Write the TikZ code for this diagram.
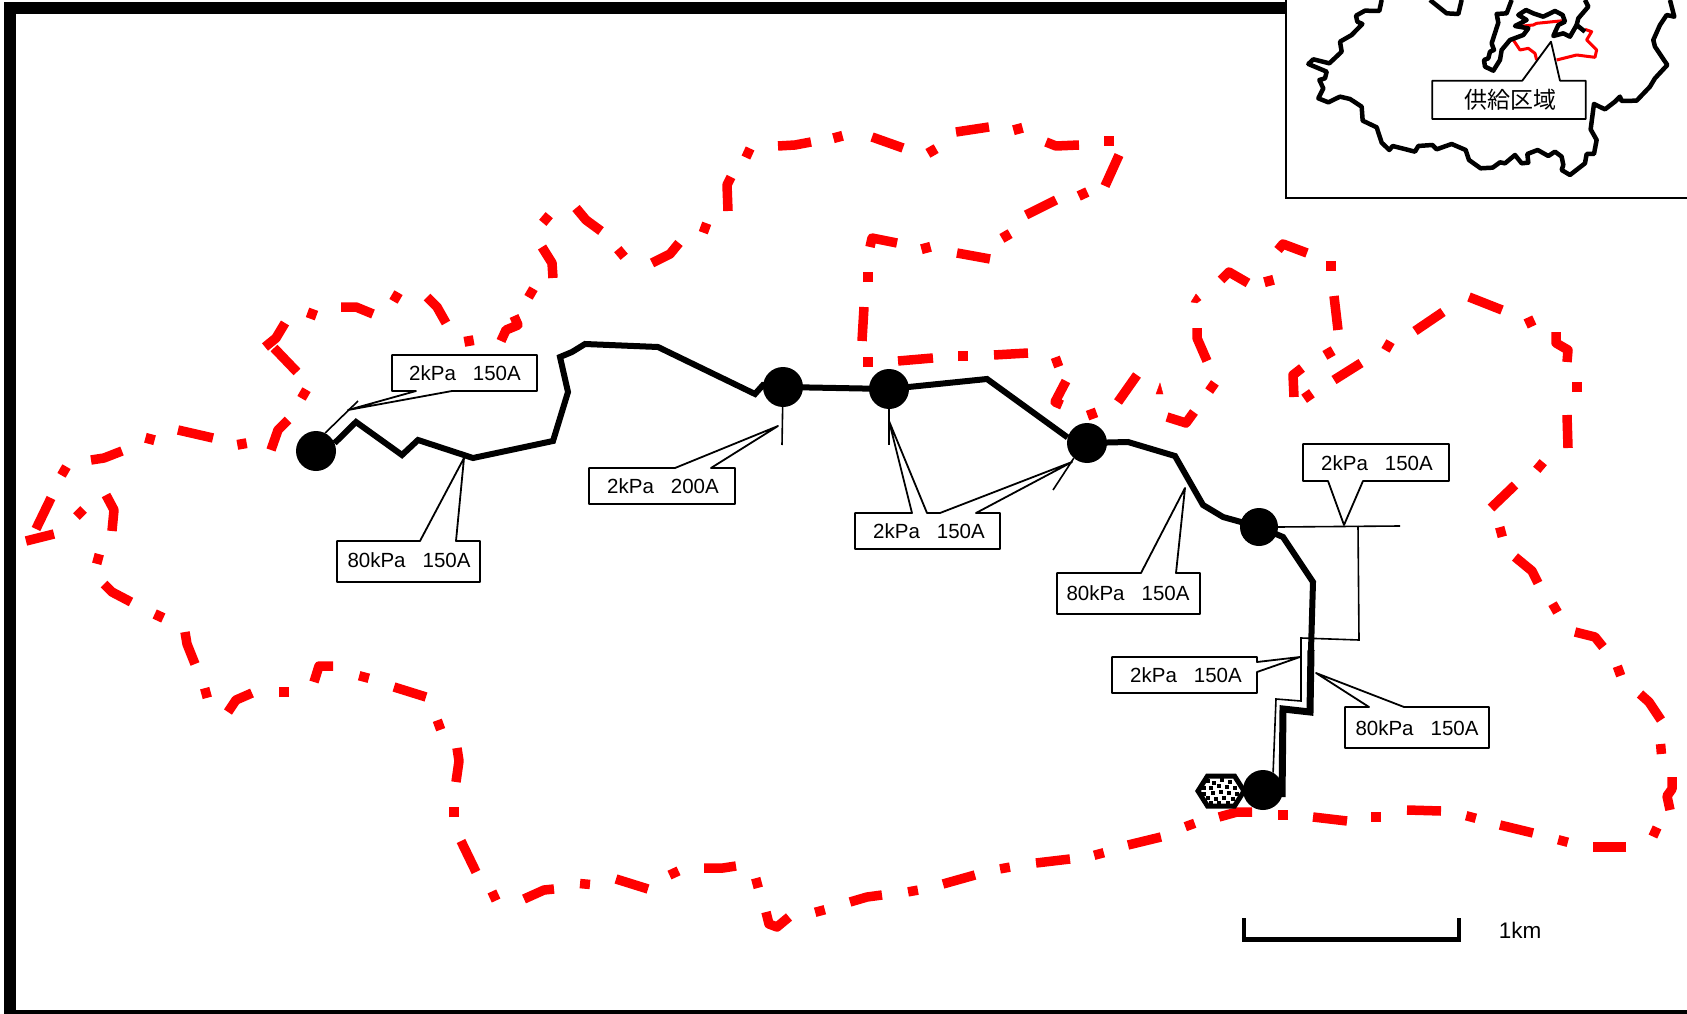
\documentclass[tikz,border=0pt]{standalone}
\usepackage{fontspec}
\setmainfont{Liberation Sans}
\newfontfamily\cjkfont{Noto Sans CJK JP}
\newcommand{\rdash}[1]{\draw[reddash] plot coordinates {#1};}
\newcommand{\rdot}[3]{\draw[reddash] (#1,#2) ++(#3:5) -- ++(#3+180:10);}
\newcommand{\pipelabel}[2]{#1\hspace{17pt}#2}
\tikzset{
  reddash/.style={draw=red,line width=9.5pt,line join=round},
  mainpipe/.style={draw=black,line width=6pt,line join=miter},
  heavypipe/.style={draw=black,line width=7pt,line join=miter},
  thinline/.style={draw=black,line width=1.6pt,line join=miter},
  callout/.style={draw=black,fill=white,line width=1.8pt,line join=round},
  station/.style={circle,fill=black,draw=none,inner sep=0pt,minimum size=40pt},
  calltext/.style={inner sep=0pt,font=\fontsize{20.5}{24}\selectfont,text=black},
  mapline/.style={draw=black,line width=4.5pt,line join=round},
  mapred/.style={draw=red,line width=3pt,line join=round}
}
\begin{document}
\begin{tikzpicture}[x=1pt,y=-1pt]
\useasboundingbox (0,0) rectangle (1687,1014);
\fill[white] (0,0) rectangle (1687,1014);
% frame
\draw[black,line width=12pt] (1300,8.5) -- (10,8.5) -- (10,1016) -- (1687,1016);
% red boundary
\rdash{(26,541) (54,534)}
\rdash{(36,529) (51,498)}
\rdot{64}{471}{-60}
\rdash{(91,460) (104,458) (122,451)}
\rdot{150}{439}{-75}
\rdash{(178,430) (213,438)}
\rdot{242}{444}{80}
\rdash{(271,450) (278,430) (288,420)}
\rdot{304}{394}{-60}
\rdash{(297,372) (274,348)}
\rdash{(265,347) (276,338) (285,323)}
\rdot{312}{314}{-70}
\rdash{(341,307) (356,307) (373,314)}
\rdot{396}{297}{-60}
\rdash{(427,297) (437,307) (446,323)}
\rdot{469}{341}{80}
\rdash{(501,341) (506,330) (518,325) (514,316)}
\rdot{531}{293}{-60}
\rdash{(553,278) (552,263) (542,247)}
\rdot{546}{219}{-50}
\rdash{(576,208) (586,220) (601,231)}
\rdot{621}{253}{50}
\rdash{(652,263) (670,254) (679,243)}
\rdot{705}{228}{-70}
\rdash{(728,211) (727,185) (731,177)}
\rdot{748}{153}{-65}
\rdash{(778,146) (795,145) (811,142)}
\rdot{838}{137}{75}
\rdash{(872,137) (903,148)}
\rdot{932}{151}{60}
\rdash{(956,132) (989,127)}
\rdot{1018}{129}{75}
\rdash{(1046,142) (1056,146) (1079,145)}
\rdot{1109}{141}{90}
\rdash{(1119,155) (1105,186)}
\rdot{1083}{194}{65}
\rdash{(1056,200) (1026,215)}
\rdot{1006}{236}{60}
\rdash{(990,259) (957,253)}
\rdot{926}{248}{75}
\rdash{(897,243) (872,238) (870,247)}
\rdot{868}{277}{90}
\rdash{(864,307) (862,341)}
\rdot{868}{362}{90}
\rdash{(898,361) (933,358)}
\rdot{963}{356}{90}
\rdash{(994,355) (1028,353)}
\rdot{1057}{362}{70}
\rdash{(1066,381) (1055,402) (1062,405)}
\rdot{1092}{414}{70}
\rdash{(1118,402) (1137,375)}
\draw[red,fill=red] (1156,394) -- (1160,383) -- (1163,394) -- cycle;
\rdash{(1167,417) (1186,423) (1194,412)}
\rdot{1212}{387}{-55}
\rdash{(1207,361) (1197,338) (1197,328)}
\draw[red,fill=red] (1191,302) -- (1196,294) -- (1201,300) -- (1197,303) -- cycle;
\rdash{(1221,280) (1229,272) (1248,283)}
\rdot{1269}{281}{75}
\rdash{(1278,250) (1283,244) (1307,253)}
\rdot{1331}{266}{90}
\rdash{(1334,296) (1338,330)}
\rdot{1329}{353}{60}
\rdash{(1294,397) (1293,375) (1302,368)}
\rdot{1308}{396}{55}
\rdash{(1334,380) (1361,363)}
\rdot{1388}{346}{-60}
\rdash{(1415,331) (1443,312)}
\rdash{(1469,297) (1502,310)}
\rdot{1530}{322}{65}
\rdash{(1556,332) (1556,343) (1568,350) (1567,362)}
\rdot{1577}{387}{90}
\rdash{(1567,415) (1568,448)}
\rdot{1540}{466}{-50}
\rdash{(1515,485) (1491,508)}
\rdot{1501}{532}{75}
\rdash{(1515,557) (1532,571) (1538,583)}
\rdot{1555}{608}{60}
\rdash{(1575,632) (1595,637) (1603,647)}
\rdot{1619}{671}{70}
\rdash{(1640,694) (1649,702) (1661,720)}
\rdot{1661}{749}{85}
\rdash{(1672,777) (1672,789) (1667,796) (1670,810)}
\rdot{1655}{832}{-65}
\rdash{(1626,847) (1607,847) (1593,847)}
\rdot{1563}{841}{15}
\rdash{(1533,833) (1500,825)}
\rdot{1471}{817}{15}
\rdash{(1441,811) (1407,810)}
\rdot{1376}{817}{0}
\rdash{(1347,821) (1313,817)}
\rdot{1283}{815}{0}
\rdash{(1252,812) (1237,812) (1219,817)}
\rdot{1190}{825}{-20}
\rdash{(1161,837) (1128,845)}
\rdot{1099}{854}{-15}
\rdash{(1070,859) (1036,863)}
\rdot{1005}{868}{-10}
\rdash{(975,875) (943,884)}
\rdot{913}{891}{-10}
\rdash{(882,895) (867,897) (850,902)}
\rdot{820}{911}{-15}
\rdash{(789,917) (777,927) (769,924) (766,912)}
\rdot{757}{883}{75}
\rdash{(736,866) (723,868) (704,868)}
\rdot{674}{873}{-25}
\rdash{(648,889) (616,879)}
\rdot{585}{884}{5}
\rdash{(554,889) (544,890) (524,899)}
\rdot{494}{896}{65}
\rdash{(476,872) (461,841)}
\rdot{454}{812}{90}
\rdash{(456,782) (459,761) (457,748)}
\rdot{439}{725}{70}
\rdash{(426,697) (394,687)}
\rdot{364}{677}{15}
\rdash{(333,666) (319,666) (314,682)}
\rdot{284}{692}{0}
\rdash{(252,693) (236,700) (228,712)}
\rdot{206}{693}{75}
\rdash{(195,664) (187,644) (185,632)}
\rdot{159}{616}{-65}
\rdash{(131,602) (112,592) (104,584)}
\rdot{98}{559}{-75}
\rdash{(106,495) (114,510) (112,531)}
\rdot{80}{513}{-45}
% stations
\node[station] (s1) at (316,451) {};
\node[station] (s2) at (783,387) {};
\node[station] (s3) at (889,389) {};
\node[station] (s4) at (1087,443) {};
\node[station,minimum size=38pt] (s5) at (1259,527) {};
\node[station] (s6) at (1263,790) {};
% thin branches
\coordinate (e1) at (358,401);
\draw[thinline] (s1.63) -- (e1);
\coordinate (e2) at (782,445);
\draw[thinline] (s2.center) -- (e2);
\coordinate (e3) at (889,445);
\draw[thinline] (s3.center) -- (e3);
\coordinate (e4) at (1053,490);
\draw[thinline] (s4.229) -- (e4);
\coordinate (e5) at (1400,526);
\draw[thinline] (s5.east) -- (e5);
\draw[thinline] (1358,526) -- (1359,640) -- (1301,638) -- (1301,701) -- (1276,699) -- (s6.60);
% main pipe
\draw[mainpipe] (s1.23) -- (356,422) -- (402,455) -- (418,440) -- (473,458) -- (553,441) -- (568,392) -- (560,357) -- (572,352) -- (585,344) -- (658,347) -- (755,394) -- (763,385) -- (s2.center);
\draw[mainpipe] (s2.center) -- (s3.center);
\draw[mainpipe] (s3.center) -- (987,379) -- (s4.164);
\draw[mainpipe] (s4.center) -- (1128,442) -- (1175,456) -- (1203,505) -- (1223,517) -- (s5.center);
\draw[mainpipe] (s5.center) -- (1283,537) -- (1313,582) -- (1311,650);
\draw[heavypipe] (1311,650) -- (1310,712) -- (1283,709) -- (1282,797);
% callouts
\draw[callout] (392,355) -- (537,355) -- (537,391) -- (452,391) -- (348,410) -- (416,391) -- (392,391) -- cycle;
\node[calltext] (c1) at (465,373) {\pipelabel{2kPa}{150A}};
\draw[callout] (337,541) -- (420,541) -- (464,458) -- (456,541) -- (480,541) -- (480,582) -- (337,582) -- cycle;
\node[calltext] (c2) at (409,560.5) {\pipelabel{80kPa}{150A}};
\draw[callout] (589,468) -- (675,468) -- (778,426) -- (711,468) -- (735,468) -- (735,504) -- (589,504) -- cycle;
\node[calltext] (c3) at (663,486) {\pipelabel{2kPa}{200A}};
\draw[callout] (855,513) -- (912,513) -- (889,421) -- (927,513) -- (940,513) -- (1072,462) -- (976,513) -- (1000,513) -- (1000,549) -- (855,549) -- cycle;
\node[calltext] (c4) at (929,531) {\pipelabel{2kPa}{150A}};
\draw[callout] (1057,573) -- (1141,573) -- (1185,488) -- (1176,573) -- (1200,573) -- (1200,614) -- (1057,614) -- cycle;
\node[calltext] (c5) at (1128,593) {\pipelabel{80kPa}{150A}};
\draw[callout] (1303,444) -- (1449,444) -- (1449,481) -- (1363,481) -- (1344,525) -- (1328,481) -- (1303,481) -- cycle;
\node[calltext] (c6) at (1377,463) {\pipelabel{2kPa}{150A}};
\draw[callout] (1112,657) -- (1257,657) -- (1257,662) -- (1300,657) -- (1257,672) -- (1257,693) -- (1112,693) -- cycle;
\node[calltext] (c7) at (1186,675) {\pipelabel{2kPa}{150A}};
\draw[callout] (1345,707) -- (1369,707) -- (1316,673) -- (1404,707) -- (1489,707) -- (1489,748) -- (1345,748) -- cycle;
\node[calltext] (c8) at (1417,728) {\pipelabel{80kPa}{150A}};
% supply plant hexagon
\draw[fill=white,draw=black,line width=5pt,line join=miter] (1198,791) -- (1207.5,776) -- (1234.5,776) -- (1244,791) -- (1234.5,806) -- (1207.5,806) -- cycle;
\foreach \px/\py in {1208/781,1214/783,1222/780,1230/782,1204/788,1211/788,1219/786,1227/787,1235/788,1204/794,1213/793,1221/792,1229/793,1237/794,1208/798,1216/799,1224/798,1233/799,1211/803,1219/803,1228/803}
  \fill[black] (\px-2.2,\py-2.2) rectangle (\px+2.2,\py+2.2);
% scale bar
\draw[black,line width=4.5pt] (1244,918) -- (1244,939);
\draw[black,line width=4.5pt] (1459,918) -- (1459,939);
\draw[black,line width=5pt] (1241.75,939) -- (1461.25,939);
\node[calltext,font=\fontsize{22.5}{26}\selectfont] (km) at (1520,930) {1km};
% inset
\fill[white] (1286,0) rectangle (1687,198);
\draw[black,line width=2pt] (1286,0) -- (1286,198) -- (1687,198);
\begin{scope}[shift={(1270,0)},x=0.3333pt,y=-0.3333pt]
\draw[mapred] (740,80) -- (790,75) -- (800,70) -- (880,62);
\draw[mapred] (730,120) -- (750,150) -- (775,145) -- (795,160) -- (800,180);
\draw[mapred] (860,180) -- (920,165) -- (975,172) -- (980,150) -- (950,120) -- (965,95) -- (945,88);
\draw[mapline] (335,0) -- (328,33) -- (285,32) -- (258,47) -- (262,65) -- (277,72) -- (245,105) -- (210,125) -- (215,155) -- (178,190) -- (130,178) -- (115,192) -- (170,215) -- (165,235) -- (148,240) -- (160,265) -- (145,295) -- (175,307) -- (210,290) -- (240,297) -- (275,320) -- (278,362) -- (320,382) -- (335,428) -- (358,450) -- (368,438) -- (435,455) -- (445,438) -- (487,435) -- (500,448) -- (545,432) -- (587,450) -- (597,480) -- (632,505) -- (668,503) -- (690,487) -- (705,490) -- (735,465) -- (755,490) -- (775,488) -- (772,462) -- (803,450) -- (835,468) -- (855,455) -- (875,470) -- (880,495) -- (875,510) -- (900,525) -- (945,490) -- (950,462) -- (972,462) -- (980,420) -- (962,388) -- (972,312) -- (1005,328) -- (1035,305) -- (1050,290) -- (1055,303) -- (1100,302) -- (1140,260) -- (1155,235) -- (1192,195) -- (1155,140) -- (1150,120) -- (1170,75) -- (1190,45) -- (1213,50) -- (1200,0);
\draw[mapline] (480,0) -- (530,40) -- (565,42) -- (575,0);
\draw[mapline] (725,0) -- (710,40) -- (680,42) -- (685,68) -- (665,130) -- (672,150) -- (660,155) -- (655,175) -- (642,180) -- (645,200) -- (670,212) -- (690,180) -- (695,150) -- (720,120) -- (760,105) -- (775,85) -- (735,78) -- (770,60) -- (745,45) -- (768,30) -- (790,40) -- (820,50) -- (855,33) -- (878,45) -- (885,65) -- (865,75) -- (850,108) -- (880,100) -- (900,110) -- (920,75) -- (945,95);
\draw[mapline] (920,75) -- (925,55) -- (955,20) -- (945,0);
\draw[callout,line width=1.8pt] (487,242) -- (757,242) -- (843,125) -- (870,242) -- (947,242) -- (947,357) -- (487,357) -- cycle;
\node[calltext,font=\cjkfont\fontsize{23}{26}\selectfont] (area) at (722,300) {供給区域};
\end{scope}
\end{tikzpicture}
\end{document}
